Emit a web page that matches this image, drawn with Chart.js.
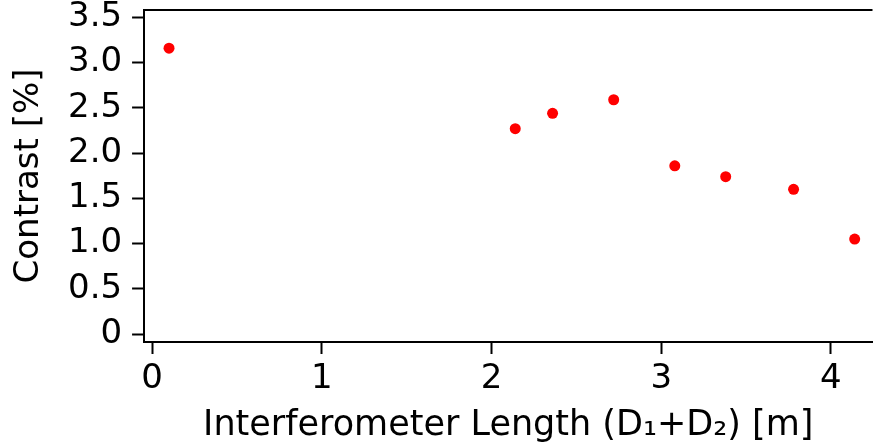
<!DOCTYPE html>
<html>
<head>
<meta charset="utf-8">
<script src="https://cdn.jsdelivr.net/npm/chart.js@4"></script>
<style>
  html, body { margin: 0; padding: 0; background: #fff; overflow: hidden; }
  body { width: 878px; height: 446px; position: relative; }
  #wrap { position: absolute; left: 0; top: -17px; width: 878px; height: 463px; }
</style>
</head>
<body>
<div id="wrap"><canvas id="contrastChart"></canvas></div>
<script>
// interferometer length D1+D2 in metres, contrast in percent
const lengths = [0.10, 2.14, 2.36, 2.72, 3.08, 3.38, 3.78, 4.14];
const contrast = [3.16, 2.27, 2.44, 2.59, 1.86, 1.74, 1.60, 1.05];

const xTicks = [0, 1, 2, 3, 4];
const xTickLabels = ["0", "1", "2", "3", "4"];
const yTicks = [0, 0.5, 1, 1.5, 2, 2.5, 3, 3.5];
const yTickLabels = ["0", "0.5", "1.0", "1.5", "2.0", "2.5", "3.0", "3.5"];

const font = { family: "DejaVu Sans", size: 34, lineHeight: 1 };
const xTitleFont = { family: "DejaVu Sans", size: 35, lineHeight: 1 };

// top edge of the frame (no axis lives there)
const topFrame = {
  id: "topFrame",
  afterDraw(chart) {
    const { ctx, chartArea } = chart;
    ctx.save();
    ctx.strokeStyle = "#000";
    ctx.lineWidth = 2;
    ctx.beginPath();
    ctx.moveTo(chartArea.left, chartArea.top);
    ctx.lineTo(chartArea.right, chartArea.top);
    ctx.stroke();
    ctx.restore();
  },
};

const ctx = document.getElementById("contrastChart").getContext("2d");
new Chart(ctx, {
  type: "scatter",
  data: {
    datasets: [
      {
        data: lengths.map((x, i) => ({ x: x, y: contrast[i] })),
        backgroundColor: "#ff0000",
        borderColor: "#ff0000",
        pointRadius: 5.5,
        pointHoverRadius: 5.5,
        borderWidth: 0,
      },
    ],
  },
  options: {
    responsive: true,
    maintainAspectRatio: false,
    animation: false,
    layout: { padding: { left: 8, right: 0, top: 0, bottom: 0 } },
    plugins: { legend: { display: false }, tooltip: { enabled: false } },
    scales: {
      x: {
        type: "linear",
        min: -0.047,
        max: 4.245,
        afterBuildTicks: (scale) => {
          scale.ticks = xTicks.map((v) => ({ value: v }));
        },
        ticks: {
          color: "#000",
          font: font,
          padding: 8,
          callback: (v) => xTickLabels[xTicks.indexOf(v)],
        },
        grid: {
          drawOnChartArea: false,
          drawTicks: true,
          tickLength: 12,
          tickWidth: 2,
          tickColor: "#000",
        },
        border: { display: true, color: "#000", width: 2 },
        title: {
          display: true,
          text: "Interferometer Length (D\u2081+D\u2082) [m]",
          color: "#000",
          font: xTitleFont,
          padding: { top: 4, bottom: 3 },
        },
      },
      y: {
        type: "linear",
        min: -0.088,
        max: 3.582,
        afterBuildTicks: (scale) => {
          scale.ticks = yTicks.map((v) => ({ value: v }));
        },
        ticks: {
          color: "#000",
          font: font,
          padding: 10,
          callback: (v) => yTickLabels[yTicks.indexOf(v)],
        },
        grid: {
          drawOnChartArea: false,
          drawTicks: true,
          tickLength: 12,
          tickWidth: 2,
          tickColor: "#000",
        },
        border: { display: true, color: "#000", width: 2 },
        title: {
          display: true,
          text: "Contrast [%]",
          color: "#000",
          font: font,
          padding: { top: 4, bottom: 12 },
        },
      },
    },
  },
  plugins: [topFrame],
});
</script>
</body>
</html>
